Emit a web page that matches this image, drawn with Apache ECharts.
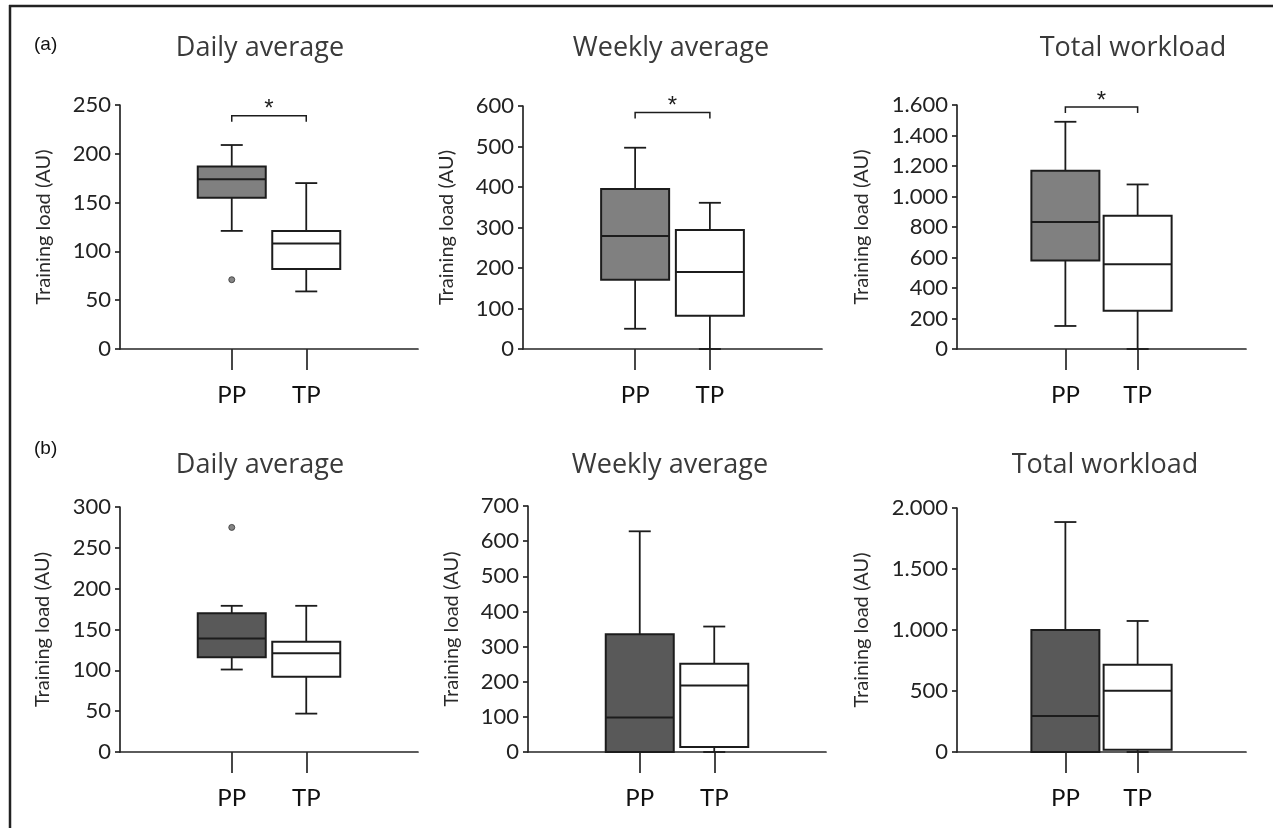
<!DOCTYPE html>
<html>
<head>
<meta charset="utf-8">
<script src="https://cdn.jsdelivr.net/npm/echarts@6/dist/echarts.min.js"></script>
<style>
  html, body { margin: 0; padding: 0; background: #fff; }
  #chart { width: 1273px; height: 828px; }
</style>
</head>
<body>
<div id="chart"></div>
<script>
// ---------- data ----------
const catSlots = ['', 'PP', 'TP', ''];
const panelTitles = ['Daily average', 'Weekly average', 'Total workload', 'Daily average', 'Weekly average', 'Total workload'];
const rowLabels = ['(a)', '(b)'];
const yAxisName = 'Training load (AU)';
const yMax = [250, 600, 1600, 300, 700, 2000];
const yStep = [50, 100, 200, 50, 100, 500];
// [lower whisker, Q1, median, Q3, upper whisker]
const aDailyPP = [121, 155, 174, 187, 209];
const aDailyTP = [59, 82, 108, 121, 170];
const aWeeklyPP = [50, 171, 279, 395, 497];
const aWeeklyTP = [0, 82, 190, 294, 361];
const aTotalPP = [151, 581, 833, 1169, 1490];
const aTotalTP = [0, 251, 555, 874, 1079];
const bDailyPP = [101, 116, 139, 170, 179];
const bDailyTP = [47, 92, 121, 135, 179];
const bWeeklyPP = [0, 0, 98, 335, 628];
const bWeeklyTP = [0, 14, 189, 251, 357];
const bTotalPP = [0, 0, 295, 1000, 1885];
const bTotalTP = [0, 19, 502, 716, 1074];
const outliersPP = [[71], [], [], [275], [], []];
const sigBracketY = [239, 584, 1587, null, null, null];
const sigMark = '*';

const ppData = [aDailyPP, aWeeklyPP, aTotalPP, bDailyPP, bWeeklyPP, bTotalPP];
const tpData = [aDailyTP, aWeeklyTP, aTotalTP, bDailyTP, bWeeklyTP, bTotalTP];

// ---------- layout / style ----------
const grids = [
  { left: 120, top: 105, width: 298, height: 244 },
  { left: 523, top: 106, width: 299, height: 243 },
  { left: 957, top: 105, width: 289, height: 244 },
  { left: 120, top: 507, width: 298, height: 245 },
  { left: 528, top: 506, width: 298, height: 246 },
  { left: 957, top: 508, width: 289, height: 244 }
];
const nameGaps = [66, 66, 85, 67, 66, 85];
const titlePos = [[260, 48], [671, 48], [1133, 48], [260, 465], [670, 465], [1105, 465]];
const rowLabelPos = [[34, 45], [34, 449]];
const ppFill = ['#808080', '#808080', '#808080', '#595959', '#595959', '#595959'];
const tpFill = '#ffffff';
const INK = '#1c1c1c';
const AXIS = '#262626';
const BOX_W = 68;
const CAP_W = 22;
const FONT = 'Lato, "Open Sans", sans-serif';
const TITLE_FONT = '"Open Sans", Lato, sans-serif';

function fmt(v) {
  return String(v).replace(/\B(?=(\d{3})+(?!\d))/g, '.');
}

function renderBox(params, api) {
  const c = api.value(0);
  const pMin = api.coord([c, api.value(1)]);
  const pQ1 = api.coord([c, api.value(2)]);
  const pMed = api.coord([c, api.value(3)]);
  const pQ3 = api.coord([c, api.value(4)]);
  const pMax = api.coord([c, api.value(5)]);
  const cx = pMed[0];
  const half = BOX_W / 2, capHalf = CAP_W / 2;
  const ls = { stroke: INK, lineWidth: 1.8 };
  const children = [];
  if (pMax[1] < pQ3[1] - 0.5) {
    children.push({ type: 'line', shape: { x1: cx, y1: pQ3[1], x2: cx, y2: pMax[1] }, style: ls });
    children.push({ type: 'line', shape: { x1: cx - capHalf, y1: pMax[1], x2: cx + capHalf, y2: pMax[1] }, style: ls });
  }
  if (pMin[1] > pQ1[1] + 0.5) {
    children.push({ type: 'line', shape: { x1: cx, y1: pQ1[1], x2: cx, y2: pMin[1] }, style: ls });
    children.push({ type: 'line', shape: { x1: cx - capHalf, y1: pMin[1], x2: cx + capHalf, y2: pMin[1] }, style: ls });
  }
  children.push({
    type: 'rect',
    shape: { x: cx - half, y: pQ3[1], width: BOX_W, height: pQ1[1] - pQ3[1] },
    style: { fill: api.visual('color'), stroke: INK, lineWidth: 2 }
  });
  children.push({ type: 'line', shape: { x1: cx - half, y1: pMed[1], x2: cx + half, y2: pMed[1] }, style: { stroke: INK, lineWidth: 2 } });
  return { type: 'group', children: children };
}

function renderBracket(params, api) {
  const y = api.value(2);
  const p1 = api.coord([api.value(0), y]);
  const p2 = api.coord([api.value(1), y]);
  return {
    type: 'group',
    children: [
      { type: 'polyline', shape: { points: [[p1[0], p1[1] + 6], p1, p2, [p2[0], p2[1] + 6]] },
        style: { stroke: INK, lineWidth: 1.5, fill: null } },
      { type: 'text', x: (p1[0] + p2[0]) / 2, y: p1[1] - 6,
        style: { text: sigMark, fill: INK, font: '24px "Liberation Sans", Arial, sans-serif', textAlign: 'center', textVerticalAlign: 'middle' } }
    ]
  };
}

const option = {
  backgroundColor: '#ffffff',
  animation: false,
  grid: [], xAxis: [], yAxis: [], series: [],
  graphic: []
};

for (let i = 0; i < 6; i++) {
  option.grid.push(Object.assign({ containLabel: false }, grids[i]));
  option.xAxis.push({
    type: 'category', gridIndex: i, data: catSlots,
    axisLine: { show: true, lineStyle: { color: AXIS, width: 1.7 } },
    axisTick: { show: true, alignWithLabel: true, length: 21, interval: (idx, v) => v !== '',
      lineStyle: { color: AXIS, width: 1.7 } },
    axisLabel: { show: true, interval: (idx, v) => v !== '', margin: 34,
      fontFamily: FONT, fontSize: 24, color: '#111' },
    splitLine: { show: false }
  });
  option.yAxis.push({
    type: 'value', gridIndex: i, min: 0, max: yMax[i], interval: yStep[i],
    name: yAxisName, nameLocation: 'middle', nameGap: nameGaps[i],
    nameTextStyle: { fontFamily: FONT, fontSize: 20, color: '#2a2a2a' },
    axisLine: { show: true, lineStyle: { color: AXIS, width: 1.7 } },
    axisTick: { show: true, length: 5, lineStyle: { color: AXIS, width: 1.7 } },
    axisLabel: { margin: 9, fontFamily: FONT, fontSize: 22, color: '#222', formatter: fmt },
    splitLine: { show: false }
  });
  option.series.push({
    type: 'custom', xAxisIndex: i, yAxisIndex: i,
    renderItem: renderBox,
    encode: { x: 0, y: [1, 2, 3, 4, 5] },
    data: [
      { value: [1].concat(ppData[i]), itemStyle: { color: ppFill[i] } },
      { value: [2].concat(tpData[i]), itemStyle: { color: tpFill } }
    ],
    z: 3
  });
  if (outliersPP[i].length) {
    option.series.push({
      type: 'scatter', xAxisIndex: i, yAxisIndex: i,
      data: outliersPP[i].map(v => [1, v]),
      symbol: 'circle', symbolSize: 6,
      itemStyle: { color: '#666', borderColor: '#333', borderWidth: 1 },
      z: 4
    });
  }
  if (sigBracketY[i] !== null) {
    option.series.push({
      type: 'custom', xAxisIndex: i, yAxisIndex: i,
      renderItem: renderBracket,
      encode: { x: [0, 1], y: 2 },
      data: [[1, 2, sigBracketY[i]]],
      clip: false, z: 3
    });
  }
  option.graphic.push({
    type: 'text', x: titlePos[i][0], y: titlePos[i][1],
    style: { text: panelTitles[i], font: '27px ' + TITLE_FONT, fill: '#3a3a3a', textAlign: 'center', textVerticalAlign: 'middle' }
  });
}
rowLabels.forEach((t, k) => {
  option.graphic.push({
    type: 'text', x: rowLabelPos[k][0], y: rowLabelPos[k][1],
    style: { text: t, font: '19px "Liberation Sans", Arial, sans-serif', fill: '#111', textAlign: 'left', textVerticalAlign: 'middle' }
  });
});
// frame lines (top and left)
option.graphic.push({ type: 'line', shape: { x1: 9, y1: 6, x2: 1273, y2: 6 }, style: { stroke: '#222', lineWidth: 2.5 } });
option.graphic.push({ type: 'line', shape: { x1: 10, y1: 5, x2: 10, y2: 828 }, style: { stroke: '#222', lineWidth: 2.5 } });

const chart = echarts.init(document.getElementById('chart'), null, { renderer: 'canvas' });
chart.setOption(option);
</script>
</body>
</html>
